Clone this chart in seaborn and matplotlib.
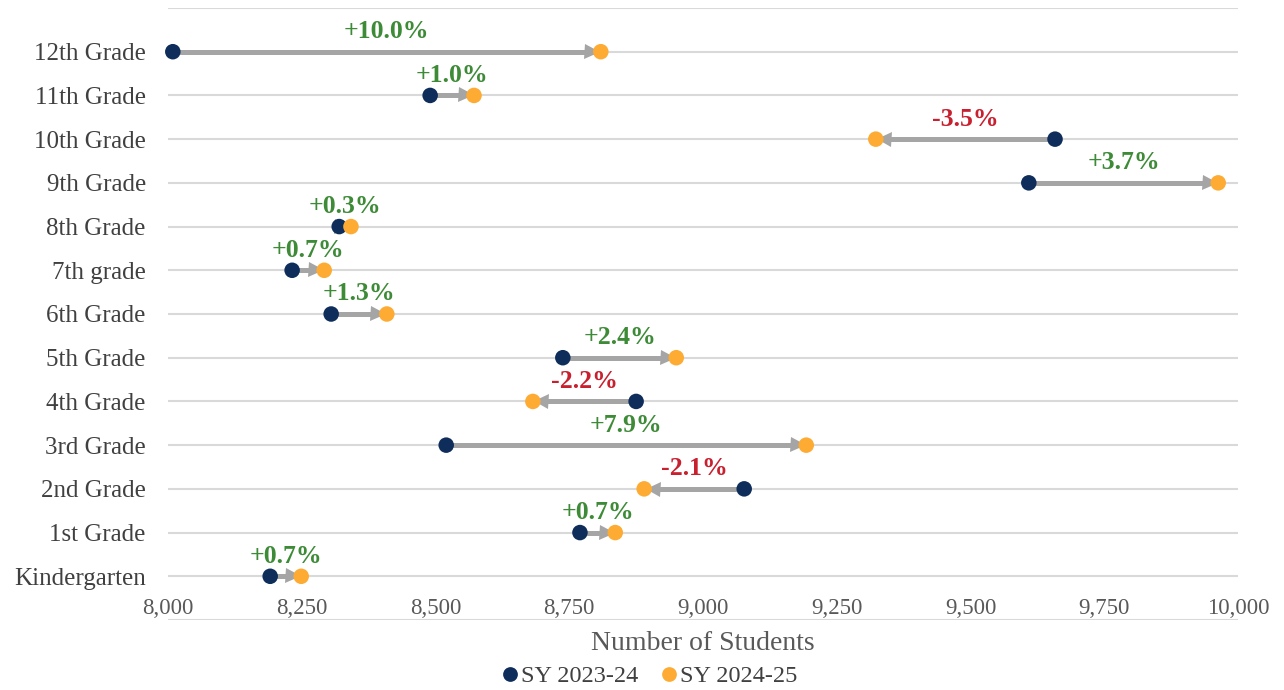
import pandas as pd
import numpy as np
import matplotlib
matplotlib.use("Agg")
import matplotlib.pyplot as plt
from matplotlib.transforms import offset_copy
import seaborn as sns

# Data (bottom to top)
grades = ["Kindergarten", "1st Grade", "2nd Grade", "3rd Grade", "4th Grade",
          "5th Grade", "6th Grade", "7th grade", "8th Grade", "9th Grade",
          "10th Grade", "11th Grade", "12th Grade"]
sy_2023_24 = [8191, 8770, 9077, 8520, 8875, 8738, 8305, 8232, 8320, 9609, 9658, 8490, 8009]
sy_2024_25 = [8249, 8836, 8890, 9193, 8682, 8950, 8409, 8292, 8342, 9963, 9323, 8572, 8809]
pct_labels = ["+0.7%", "+0.7%", "-2.1%", "+7.9%", "-2.2%", "+2.4%", "+1.3%",
              "+0.7%", "+0.3%", "+3.7%", "-3.5%", "+1.0%", "+10.0%"]
x_ticks = [8000, 8250, 8500, 8750, 9000, 9250, 9500, 9750, 10000]

navy = "#0e2d5a"
orange = "#fdab33"
green = "#3d8b37"
red = "#c8202f"
arrow_gray = "#a5a5a5"
text_gray = "#404040"

sns.set_style("white")
plt.rcParams["font.family"] = ["Liberation Serif", "DejaVu Serif"]

pos = np.arange(len(grades))
df = pd.DataFrame({
    "grade": grades * 2,
    "pos": np.concatenate([pos, pos]),
    "students": sy_2023_24 + sy_2024_25,
    "year": ["SY 2023-24"] * len(grades) + ["SY 2024-25"] * len(grades),
})

fig = plt.figure(figsize=(12.84, 6.9), dpi=100)
ax = fig.add_axes([168 / 1284, 70 / 690, 1070 / 1284, 612 / 690])

# arrows from old to new value: shaft + triangle head just before the new point
for i in range(len(grades)):
    x0, x1 = sy_2023_24[i], sy_2024_25[i]
    d = 1 if x1 > x0 else -1
    ax.plot([x0, x1], [pos[i], pos[i]], color=arrow_gray, lw=3.6,
            solid_capstyle="butt", zorder=2)
    head_tr = offset_copy(ax.transData, fig=fig, x=-d * 8.5, y=0, units="dots")
    ax.plot([x1], [pos[i]], marker=">" if d > 0 else "<", markersize=10.8,
            color=arrow_gray, markeredgewidth=0, transform=head_tr, zorder=2)

    mid = (x0 + x1) / 2
    color = red if pct_labels[i].startswith("-") else green
    ax.text(mid, pos[i] + 0.46, pct_labels[i], ha="center", va="center",
            fontsize=18.5, fontweight="bold", color=color, zorder=4)

sns.scatterplot(
    data=df, x="students", y="pos", hue="year",
    palette={"SY 2023-24": navy, "SY 2024-25": orange},
    s=125, linewidth=0, ax=ax, zorder=3, clip_on=False,
)

ax.set_xlim(8000, 10000)
ax.set_ylim(-1, 13)
ax.set_yticks(range(-1, 14))
ax.set_yticklabels([""] + grades + [""])
ax.set_xticks(x_ticks)
ax.set_xticklabels([f"{v:,}" for v in x_ticks])

ax.grid(axis="y", color="#d9d9d9", linewidth=1.5)
ax.grid(axis="x", visible=False)
for s in ax.spines.values():
    s.set_visible(False)

ax.tick_params(axis="y", length=0, pad=16, labelsize=18, labelcolor=text_gray)
ax.tick_params(axis="x", length=0, pad=-16, labelsize=16.5, labelcolor="#595959")

ax.set_ylabel("")
ax.set_xlabel("Number of Students", fontsize=20, color="#595959")
ax.xaxis.set_label_coords(0.5, -0.018)

sns.move_legend(ax, "center", bbox_to_anchor=(0.4505, -0.092), ncol=2,
                frameon=False, title=None, fontsize=17.5,
                handlelength=0.6, handletextpad=0.15, columnspacing=1.0,
                markerscale=0.95)
for t in ax.get_legend().get_texts():
    t.set_color(text_gray)

plt.savefig("out.png", dpi=100)
